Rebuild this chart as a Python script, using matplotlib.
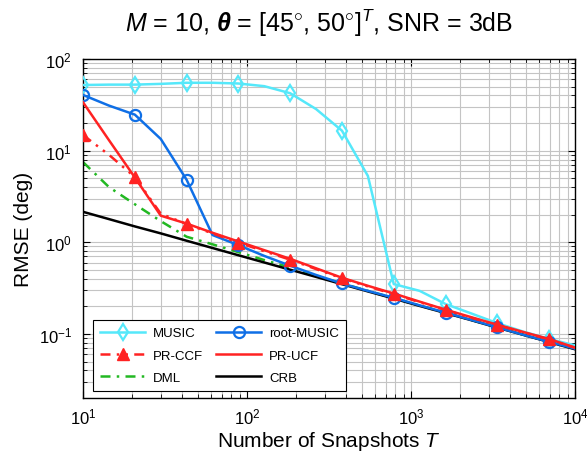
import numpy as np
import matplotlib
matplotlib.use("Agg")
import matplotlib.pyplot as plt

plt.rcParams["font.family"] = ["Liberation Sans", "DejaVu Sans"]
plt.rcParams["mathtext.fontset"] = "custom"
plt.rcParams["mathtext.rm"] = "Liberation Sans"
plt.rcParams["mathtext.it"] = "Liberation Sans:italic"
plt.rcParams["mathtext.bf"] = "Liberation Sans:bold"
plt.rcParams["mathtext.bfit"] = "Liberation Sans:bold:italic"
plt.rcParams["axes.unicode_minus"] = True

# Number of snapshots (log-spaced, 20 points from 10 to 10^4)
snapshots = [10, 14.4, 20.7, 29.8, 42.8, 61.6, 88.6, 127.4, 183.3, 263.7,
             379.3, 545.6, 784.8, 1128.8, 1623.8, 2335.7, 3359.8, 4832.9,
             6951.9, 10000]

rmse_music = [52, 52.5, 52.5, 53.5, 55, 55, 54, 50.5, 42.3, 28.4,
              16.5, 5.3, 0.35, 0.295, 0.212, 0.167, 0.131, 0.106, 0.088, 0.075]
rmse_root_music = [40.5, 31, 24.7, 13.4, 4.82, 1.2, 0.93, 0.71, 0.555, 0.44,
                   0.355, 0.295, 0.248, 0.205, 0.171, 0.142, 0.118, 0.098, 0.082, 0.069]
rmse_pr_ccf = [14.8, 9.0, 5.15, 2.05, 1.58, 1.25, 0.99, 0.8, 0.645, 0.51,
               0.405, 0.33, 0.272, 0.222, 0.182, 0.15, 0.125, 0.104, 0.087, 0.0705]
rmse_pr_ucf = [33.7, 13.0, 5.1, 1.95, 1.6, 1.27, 1.02, 0.82, 0.66, 0.52,
               0.41, 0.335, 0.276, 0.225, 0.184, 0.152, 0.126, 0.105, 0.088, 0.071]
rmse_dml = [7.5, 4.0, 2.6, 1.7, 1.15, 0.95, 0.78, 0.64, 0.53, 0.43,
            0.355, 0.295, 0.245, 0.204, 0.17, 0.142, 0.118, 0.098, 0.082, 0.069]
crb = [2.15, 1.79, 1.49, 1.25, 1.04, 0.866, 0.722, 0.602, 0.502, 0.419,
       0.349, 0.291, 0.243, 0.202, 0.169, 0.141, 0.117, 0.0978, 0.0815, 0.068]

fig = plt.figure(figsize=(5.87, 4.52), dpi=100)
ax = fig.add_axes([0.1414, 0.1173, 0.8382, 0.75])

c_music = "#55e8fa"
c_root = "#0f6fe6"
c_red = "#ff2222"
c_green = "#22b822"
lw = 1.8

ax.plot(snapshots, rmse_music, color=c_music, lw=lw, marker="d", ms=8,
        mfc="none", mew=1.6, markevery=2, label="MUSIC", zorder=3)
ax.plot(snapshots, rmse_pr_ccf, color=c_red, lw=lw, ls=(0, (4, 2.5, 1, 2.5, 1, 2.5)),
        marker="^", ms=8, mfc=c_red, mec=c_red, markevery=2, label="PR-CCF", zorder=4)
ax.plot(snapshots, rmse_dml, color=c_green, lw=lw, ls=(0, (4, 2.5, 1, 2.5)),
        label="DML", zorder=2)
ax.plot(snapshots, rmse_root_music, color=c_root, lw=lw, marker="o", ms=8,
        mfc="none", mew=1.6, markevery=2, label="root-MUSIC", zorder=3)
ax.plot(snapshots, rmse_pr_ucf, color=c_red, lw=lw, label="PR-UCF", zorder=4)
ax.plot(snapshots, crb, color="black", lw=lw, label="CRB", zorder=2)

ax.set_xscale("log")
ax.set_yscale("log")
ax.set_xlim(10, 1e4)
ax.set_ylim(0.02, 100)

ax.grid(True, which="both", color="#c4c4c4", lw=0.8)
ax.set_axisbelow(True)
ax.tick_params(which="both", direction="in", top=True, right=True, labelsize=12)
ax.tick_params(axis="y", pad=8)
ax.tick_params(axis="x", pad=6)
ax.tick_params(which="major", length=5)
ax.tick_params(which="minor", length=3)
for s in ax.spines.values():
    s.set_linewidth(1.0)

ax.set_xlabel(r"Number of Snapshots $T$", fontsize=15, labelpad=2)
ax.set_ylabel("RMSE (deg)", fontsize=15)
ax.set_title(r"$M$ = 10, $\boldsymbol{\theta}$ = [45$^{\circ}$, 50$^{\circ}$]$^{T}$, SNR = 3dB",
             fontsize=18, pad=20, x=0.48)

leg = ax.legend(ncol=2, loc="lower left", bbox_to_anchor=(0.0203, 0.0206),
                borderaxespad=0, fontsize=9.5, handlelength=3.4, fancybox=False,
                edgecolor="black", framealpha=1, columnspacing=1.0,
                labelspacing=0.75, handletextpad=0.6, borderpad=0.55)
leg.get_frame().set_linewidth(0.8)

fig.savefig("out.png", dpi=100)
